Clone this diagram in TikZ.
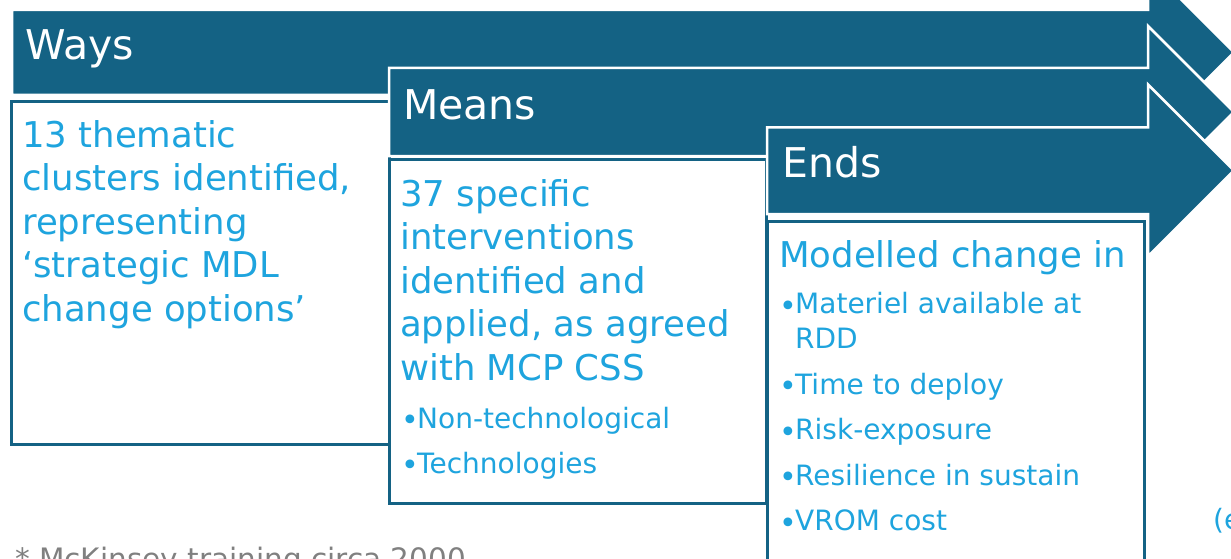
\documentclass[tikz,border=0pt]{standalone}
\usepackage{fontspec}
\setmainfont{DejaVu Sans}
\definecolor{wteal}{RGB}{20,98,132}
\definecolor{wblue}{RGB}{30,164,222}
\definecolor{wgrey}{RGB}{128,128,128}
\newcommand{\bul}{\makebox[13.3pt][l]{\hspace*{-2.8pt}\raisebox{-2.5pt}{\fontsize{30}{30}\selectfont\textbullet}}}
\tikzset{
  bigarrow/.style={fill=wteal, draw=white, line width=2.5pt, line join=miter},
  framebox/.style={draw=wteal, fill=white, line width=3pt},
  head/.style={text=white, font=\fontsize{41}{41}\selectfont, anchor=base west, inner sep=0pt},
  body/.style={text=wblue, font=\fontsize{35.5}{43.5}\selectfont, align=left, anchor=base west, inner sep=0pt},
  bullets/.style={text=wblue, font=\fontsize{28}{35}\selectfont, align=left, anchor=base west, inner sep=0pt},
}
\begin{document}
\begin{tikzpicture}[x=1pt,y=-1pt]
  \useasboundingbox (0,0) rectangle (1231,559);
  \clip (0,0) rectangle (1231,559);
  \draw[bigarrow] (12,10) -- (1148,10) -- (1148,-33.5) -- (1234,52.5) -- (1148,138.5) -- (1148,95) -- (12,95) -- cycle;
  \draw[framebox] (11,101.5) rectangle (389,444);
  \draw[bigarrow] (389,68) -- (1148,68) -- (1148,26) -- (1234,112) -- (1148,198) -- (1148,156) -- (389,156) -- cycle;
  \draw[framebox] (389,159.5) rectangle (766,503.5);
  \draw[bigarrow] (767,127.5) -- (1148,127.5) -- (1148,84.5) -- (1234,170.5) -- (1148,256.5) -- (1148,214) -- (767,214) -- cycle;
  \draw[framebox] (767.5,221) rectangle (1144,580);
  \node[head] (ways) at (25,60) {Ways};
  \node[head] (means) at (403,120) {Means};
  \node[head] (ends) at (782,177) {Ends};
  \node[body] (w1) at (22,321) {13 thematic\\clusters identified,\\representing\\‘strategic MDL\\change options’};
  \node[body] (m1) at (400,380) {37 specific\\interventions\\identified and\\applied, as agreed\\with MCP CSS};
  \node[bullets] (m2) at (403.7,473) {\bul Non-technological\\[10pt]\bul Technologies};
  \node[body] (e1) at (779,267) {Modelled change in};
  \node[bullets] (e2) at (781.7,530.5) {\bul Materiel available at\\\hspace*{13.3pt}RDD\\[10.5pt]\bul Time to deploy\\[10.5pt]\bul Risk-exposure\\[10.5pt]\bul Resilience in sustain\\[10.5pt]\bul VROM cost};
  \node[bullets] (e3) at (1213,529) {(e};
  \node[bullets, text=wgrey, font=\fontsize{29.5}{29.5}\selectfont] (note) at (15,569) {* McKinsey training circa 2000};
\end{tikzpicture}
\end{document}
